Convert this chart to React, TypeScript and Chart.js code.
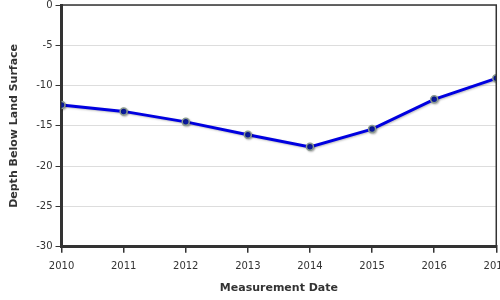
import React, { useEffect, useRef } from "react";
import { Chart, registerables } from "chart.js";

Chart.register(...registerables);

const years = [2010, 2011, 2012, 2013, 2014, 2015, 2016, 2017];
const depths = [-12.4, -13.2, -14.5, -16.1, -17.6, -15.4, -11.7, -9.1];
const yTicks = [0, -5, -10, -15, -20, -25, -30];
const xTitle = "Measurement Date";
const yTitle = "Depth Below Land Surface";

const FONT = "'DejaVu Sans', sans-serif";

const framePlugin = {
  id: "frame",
  afterDraw(chart: any) {
    const { ctx, chartArea } = chart;
    ctx.save();
    ctx.strokeStyle = "#333";
    ctx.lineWidth = 1.5;
    ctx.beginPath();
    ctx.moveTo(chartArea.left, chartArea.top);
    ctx.lineTo(chartArea.right, chartArea.top);
    ctx.lineTo(chartArea.right, chartArea.bottom);
    ctx.stroke();
    ctx.restore();
  },
  beforeDatasetDraw(chart: any) {
    const ctx = chart.ctx;
    ctx.save();
    ctx.shadowColor = "rgba(0,0,0,0.25)";
    ctx.shadowBlur = 2;
    ctx.shadowOffsetX = 1;
    ctx.shadowOffsetY = 1;
  },
  afterDatasetDraw(chart: any) {
    chart.ctx.restore();
  },
};

export default function App() {
  const ref = useRef<HTMLCanvasElement>(null);
  useEffect(() => {
    document.body.style.margin = "0";
    const chart = new Chart(ref.current!, {
      type: "line",
      data: {
        datasets: [
          {
            data: years.map((y, i) => ({ x: y, y: depths[i] })),
            borderColor: "#0000e0",
            borderWidth: 3,
            pointRadius: 3.5,
            pointBackgroundColor: "#0a1aa0",
            pointBorderColor: "#8a9a90",
            pointBorderWidth: 1.5,
            tension: 0,
          },
        ],
      },
      options: {
        animation: false,
        responsive: false,
        maintainAspectRatio: false,
        layout: { padding: { left: 6, top: 0, bottom: 3, right: 0 } },
        plugins: { legend: { display: false }, tooltip: { enabled: false } },
        scales: {
          x: {
            type: "linear",
            min: 2010,
            max: 2017,
            afterBuildTicks: (axis: any) => {
              axis.ticks = years.map((v) => ({ value: v }));
            },
            ticks: {
              color: "#333",
              font: { family: FONT, size: 10 },
              padding: 8,
              maxRotation: 0,
              callback: (v: any) => String(v),
            },
            grid: {
              display: true,
              drawOnChartArea: false,
              drawTicks: true,
              tickLength: 6,
              color: "#333",
              lineWidth: 1.5,
            },
            border: { display: true, color: "#333", width: 3 },
            title: {
              display: true,
              text: xTitle,
              color: "#333",
              font: { family: FONT, size: 11, weight: "bold" },
              padding: { top: 1, bottom: 2 },
            },
          },
          y: {
            type: "linear",
            min: -30,
            max: 0,
            afterBuildTicks: (axis: any) => {
              axis.ticks = yTicks.map((v) => ({ value: v }));
            },
            ticks: {
              color: "#333",
              font: { family: FONT, size: 10 },
              padding: 3,
              callback: (v: any) => String(v),
            },
            grid: {
              color: "#ddd",
              tickColor: "#333",
              tickLength: 6,
              lineWidth: 1,
            },
            border: { display: true, color: "#333", width: 3 },
            title: {
              display: true,
              text: yTitle,
              color: "#333",
              font: { family: FONT, size: 11, weight: "bold" },
              padding: { top: 2, bottom: 12 },
            },
          },
        },
      },
      plugins: [framePlugin],
    });
    return () => chart.destroy();
  }, []);
  return (
    <div style={{ width: 500, height: 300, overflow: "hidden" }}>
      <canvas
        ref={ref}
        width={517}
        height={304}
        style={{ display: "block", marginTop: -4 }}
      />
    </div>
  );
}
